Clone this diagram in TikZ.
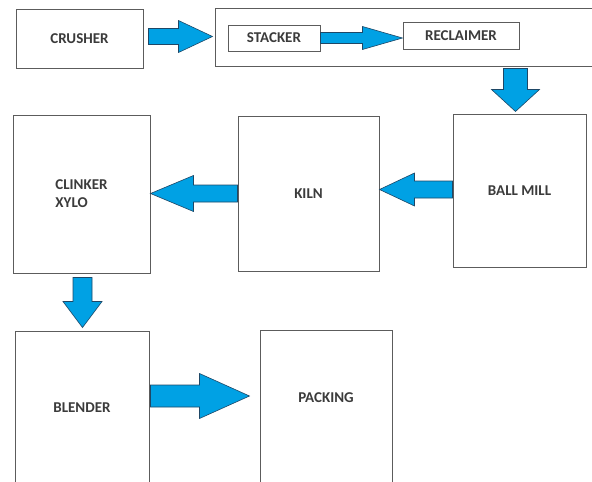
\documentclass[tikz,border=0pt]{standalone}
\usepackage{fontspec}
\setmainfont{Carlito}
\usepackage{xcolor}
\usepackage{tikz}
\usetikzlibrary{calc}

\definecolor{boxline}{HTML}{5C5C5C}
\definecolor{flowblue}{HTML}{00A1E4}
\definecolor{flowedge}{HTML}{1E4766}
\definecolor{labelgray}{HTML}{3B3B3B}

\tikzset{
  unit/.style={draw=boxline,line width=1pt,inner sep=0pt,fill=white,
    font=\fontsize{15}{18}\selectfont\bfseries,text=labelgray},
  flow/.style n args={3}{fill=flowblue,draw=flowedge,line width=0.6pt,
    to path={($(\tikztostart)!#1pt!90:(\tikztotarget)$)
      -- ($(\tikztotarget)!#3pt!(\tikztostart)!#1pt!-90:(\tikztostart)$)
      -- ($(\tikztotarget)!#3pt!(\tikztostart)!#2pt!-90:(\tikztostart)$)
      -- (\tikztotarget)
      -- ($(\tikztotarget)!#3pt!(\tikztostart)!#2pt!90:(\tikztostart)$)
      -- ($(\tikztotarget)!#3pt!(\tikztostart)!#1pt!90:(\tikztostart)$)
      -- ($(\tikztostart)!#1pt!-90:(\tikztotarget)$) -- cycle}}
}

\begin{document}
\begin{tikzpicture}[x=1pt,y=-1pt]
\clip (0,0) rectangle (592,482);
\node (crusher) at (79.5,38.5) [unit,minimum width=127pt,minimum height=59pt] {CRUSHER};
\node (outer) at (420,37) [unit,minimum width=410pt,minimum height=58pt] {};
\node (stacker) at (274,38) [unit,minimum width=92pt,minimum height=26pt] {STACKER};
\node (reclaimer) at (461,35.5) [unit,minimum width=116pt,minimum height=27pt] {RECLAIMER};
\node (ballmill) at (519.5,190.5) [unit,minimum width=133pt,minimum height=153pt] {BALL MILL};
\node (kiln) at (308.5,193.5) [unit,minimum width=141pt,minimum height=155pt] {KILN};
\node (clinker) at (81.5,194) [unit,minimum width=137pt,minimum height=158pt,align=left] {CLINKER\\XYLO};
\node (blender) at (82,408) [unit,minimum width=134pt,minimum height=154pt] {BLENDER};
\node (packing) at (326,415) [unit,minimum width=132pt,minimum height=170pt,
  label={[unit,draw=none,fill=none,yshift=17pt]center:PACKING}] {};

% flow arrows
\draw[flow={8}{16}{34}] ([xshift=5pt,yshift=2pt]crusher.east) to ([xshift=-2pt,yshift=2pt]crusher.east -| outer.west);
\draw[flow={5.5}{11.5}{40}] (stacker.east) to (stacker.east -| reclaimer.west);
\draw[flow={12}{24}{22}] ([xshift=-4pt,yshift=-2pt]outer.south -| ballmill.north) to ([xshift=-4pt,yshift=2pt]ballmill.north);
\draw[flow={8.5}{16.5}{35}] ([yshift=1pt]ballmill.west) to ([yshift=1pt]ballmill.west -| kiln.east);
\draw[flow={8.5}{18}{43}] (kiln.west) to (kiln.west -| clinker.east);
\draw[flow={9.5}{19.5}{26}] ([xshift=1pt,yshift=-4pt]clinker.south) to ([xshift=1pt,yshift=3pt]clinker.south |- blender.north);
\draw[flow={11}{22.5}{50}] ([xshift=1pt,yshift=12pt]blender.east) to ([xshift=-10pt,yshift=12pt]blender.east -| packing.west);
\end{tikzpicture}
\end{document}
